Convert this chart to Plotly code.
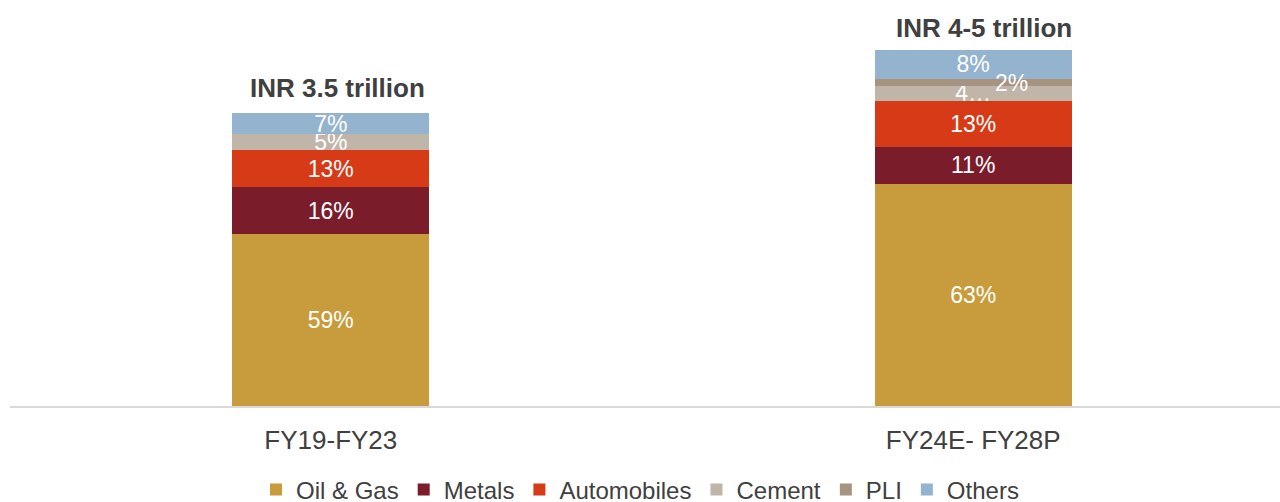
import plotly.graph_objects as go

categories = ["FY19-FY23", "FY24E- FY28P"]
totals_text = ["INR 3.5 trillion", "INR 4-5 trillion"]

# segment values (INR trillion)
oil_gas = [2.053, 2.655]
metals = [0.562, 0.446]
automobiles = [0.446, 0.550]
cement = [0.188, 0.176]
pli = [0.0, 0.084]
others = [0.251, 0.347]

# data labels as printed
oil_gas_lbl = ["59%", "63%"]
metals_lbl = ["16%", "11%"]
automobiles_lbl = ["13%", "13%"]
cement_lbl = ["5%", "4…"]
pli_lbl = ["", "2%"]
others_lbl = ["7%", "8%"]

series = [
    ("Oil & Gas", oil_gas, oil_gas_lbl, "#C89B3C"),
    ("Metals", metals, metals_lbl, "#7B1C2A"),
    ("Automobiles", automobiles, automobiles_lbl, "#D63A16"),
    ("Cement", cement, cement_lbl, "#BFB5A8"),
    ("PLI", pli, pli_lbl, "#A69380"),
    ("Others", others, others_lbl, "#94B3CF"),
]

FONT = "Liberation Sans, Arial, sans-serif"
fig = go.Figure()
annotations = []
base = [0.0, 0.0]
for name, vals, lbls, color in series:
    inside = lbls if name != "PLI" else ["" for _ in lbls]
    fig.add_trace(go.Bar(
        x=categories, y=vals, name=name,
        marker=dict(color=color, line=dict(width=0)),
        width=0.307,
        text=inside, textposition="inside", insidetextanchor="middle",
        textangle=0, constraintext="none", cliponaxis=False,
        textfont=dict(family=FONT, size=23, color="#FFFFFF"),
        hoverinfo="skip",
    ))
    if name == "PLI":
        for i, (v, l) in enumerate(zip(vals, lbls)):
            if l:
                annotations.append(dict(
                    x=categories[i], y=base[i] + v / 2, xref="x", yref="y",
                    text=l, showarrow=False, xshift=38, yshift=-1,
                    font=dict(family=FONT, size=23, color="#FFFFFF"),
                ))
    base = [b + v for b, v in zip(base, vals)]

for i, t in enumerate(totals_text):
    annotations.append(dict(
        x=categories[i], y=base[i], xref="x", yref="y",
        text="<b>" + t + "</b>", showarrow=False,
        yanchor="bottom", xshift=7 if i == 0 else 11, yshift=8 if i == 0 else 5,
        font=dict(family=FONT, size=26, color="#404040"),
    ))

fig.update_layout(
    barmode="stack",
    width=1280, height=502,
    margin=dict(l=10, r=0, t=0, b=96, autoexpand=False),
    paper_bgcolor="white", plot_bgcolor="white",
    font=dict(family=FONT, color="#404040"),
    showlegend=True,
    legend=dict(orientation="h", x=0.5, xanchor="center", xref="container",
                y=0.069, yanchor="top", yref="container",
                font=dict(family=FONT, size=24, color="#404040"),
                traceorder="normal", itemclick=False),
    annotations=annotations,
    uniformtext=dict(mode="show", minsize=23),
)
fig.update_xaxes(
    type="category", range=[-0.4994, 1.4776], automargin=False,
    showline=True, linecolor="#D9D9D9", linewidth=1.5,
    showgrid=False, ticks="", ticklabelstandoff=10,
    tickfont=dict(family=FONT, size=26, color="#404040"),
)
fig.update_yaxes(range=[0, 4.855], visible=False, showgrid=False)

fig.write_html("out.html")
